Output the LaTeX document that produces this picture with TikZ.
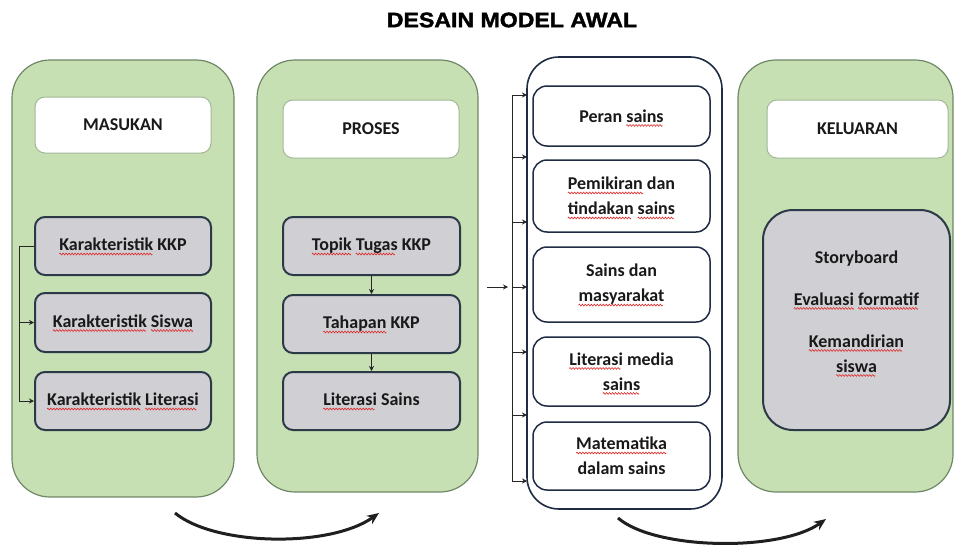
\documentclass[tikz,border=0pt]{standalone}
\usepackage{fontspec}
\setmainfont{Carlito}
\newfontfamily\titlefont[BoldFeatures={FakeBold=1.6}]{Liberation Sans}
\usetikzlibrary{arrows.meta}
\definecolor{sqred}{HTML}{E02828}
\definecolor{panelgreen}{HTML}{C6E0B4}
\definecolor{panelline}{HTML}{6F8767}
\definecolor{headline}{HTML}{A3B896}
\definecolor{itemgray}{HTML}{D0CFD4}
\definecolor{itemline}{HTML}{2C3A48}
\definecolor{navy}{HTML}{1F2C44}
\newcommand\sqwave{\tikz[baseline=0pt]{\useasboundingbox (0pt,-1pt) rectangle (3pt,1pt);\draw[sqred,line width=0.6pt,sharp corners] (0pt,0pt) sin (0.75pt,0.9pt) cos (1.5pt,0pt) sin (2.25pt,-0.9pt) cos (3pt,0pt);}}
\newcommand\sq[1]{\leavevmode\setbox0\hbox{#1}\rlap{\raisebox{-3.2pt}[0pt][0pt]{\hbox to \wd0{\leaders\hbox{\sqwave}\hfill}}}\box0\relax}
\tikzset{
  txt/.style={font=\fontsize{18}{25}\selectfont\bfseries, align=center, text=black!90},
  panel/.style={draw=panelline, fill=panelgreen, line width=1.2pt, rounded corners=38pt, inner sep=0pt},
  headbox/.style={txt, draw=headline, fill=white, line width=1pt, rounded corners=10pt, inner sep=0pt},
  itembox/.style={txt, draw=itemline, fill=itemgray, line width=2pt, rounded corners=10pt, inner sep=0pt, text depth=3pt},
  listpanel/.style={draw=navy, fill=white, line width=1.6pt, rounded corners=32pt, inner sep=0pt},
  listitem/.style={txt, draw=navy, fill=white, line width=1.5pt, rounded corners=14pt, inner sep=0pt},
  link/.style={-{Stealth[length=5pt,width=5pt]}, line width=0.9pt, draw=black!85},
  plain/.style={line width=0.9pt, draw=black!85},
  flow/.style={line width=3pt, -{Stealth[length=12pt,width=10pt]}, draw=black!88}
}
\begin{document}
\begin{tikzpicture}[x=1pt,y=-1pt]
\useasboundingbox (0,0) rectangle (955,546);
% title
\node[font=\titlefont\bfseries\fontsize{21}{25}\selectfont] (title) at (512,20) {\scalebox{1.1}[1]{DESAIN MODEL AWAL}};

% panel 1
\node[panel, minimum width=222pt, minimum height=437pt] (p1) at (123,278.5) {};
\node[headbox, minimum width=176pt, minimum height=56pt] (h1) at (123,125) {MASUKAN};
\node[itembox, minimum width=176pt, minimum height=58pt] (a1) at (123,246) {\sq{Karakteristik} KKP};
\node[itembox, minimum width=176pt, minimum height=59pt] (a2) at (123,322.5) {\sq{Karakteristik} \sq{Siswa}};
\node[itembox, minimum width=176pt, minimum height=58pt] (a3) at (123,401) {\sq{Karakteristik} \sq{Literasi}};
\draw[link] (a1.west) -- ++(-15,0) |- (a2.west);
\draw[link] (a1.west) -- ++(-15,0) |- (a3.west);

% panel 2
\node[panel, minimum width=221pt, minimum height=432pt] (p2) at (367.5,276) {};
\node[headbox, minimum width=176pt, minimum height=58pt] (h2) at (371,129) {PROSES};
\node[itembox, minimum width=177pt, minimum height=58pt] (b1) at (371.5,246) {\sq{Topik} \sq{Tugas} KKP};
\node[itembox, minimum width=177pt, minimum height=58pt] (b2) at (371.5,324) {\sq{Tahapan} KKP};
\node[itembox, minimum width=177pt, minimum height=58pt] (b3) at (371.5,401) {\sq{Literasi} Sains};
\draw[link] (b1) -- (b2);
\draw[link] (b2) -- (b3);

% panel 3
\node[listpanel, minimum width=195pt, minimum height=452pt] (p3) at (624.5,283) {};
\node[listitem, minimum width=177pt, minimum height=60pt] (c1) at (621.5,116) {Peran \sq{sains}};
\node[listitem, minimum width=177pt, minimum height=72pt] (c2) at (621.5,196) {\sq{Pemikiran} dan\\\sq{tindakan} \sq{sains}};
\node[listitem, minimum width=177pt, minimum height=75pt] (c3) at (621.5,284.5) {Sains dan\\\sq{masyarakat}};
\node[listitem, minimum width=177pt, minimum height=69pt] (c4) at (621.5,371.5) {\sq{Literasi} media\\\sq{sains}};
\node[listitem, minimum width=177pt, minimum height=68pt] (c5) at (621.5,456) {\sq{Matematika}\\dalam sains};

\coordinate (bt) at (512,95);
\coordinate (bb) at (512,481);
\draw[plain] (bt) -- (bb);
\foreach \i/\yy in {1/95,2/157,3/222,4/287,5/352,6/415,7/481}{
  \coordinate (e\i) at (527,\yy);
  \draw[link] (bt |- e\i) -- (e\i);
}
\coordinate (in0) at (487,287);
\draw[link, shorten >=4pt] (in0) -- (bt |- in0);

% panel 4
\node[panel, minimum width=215pt, minimum height=432pt] (p4) at (845.5,276) {};
\node[headbox, minimum width=181pt, minimum height=58pt] (h4) at (857.5,129) {KELUARAN};
\node[itembox, rounded corners=30pt, minimum width=187pt, minimum height=220pt, text depth=0pt] (d1) at (856.5,320) {};
\node[txt] (d1t) at (856.5,311.5) {Storyboard\\[17pt]\sq{Evaluasi} \sq{formatif}\\[17pt]\sq{Kemandirian}\\\sq{siswa}};

% flow arrows
\coordinate (f1s) at (175,513);
\coordinate (f1e) at (379,513);
\draw[flow] (f1s) .. controls (215,546) and (330,548) .. (f1e);
\coordinate (f2s) at (618,518);
\coordinate (f2e) at (826,519);
\draw[flow] (f2s) .. controls (655,550) and (780,552) .. (f2e);
\end{tikzpicture}
\end{document}
